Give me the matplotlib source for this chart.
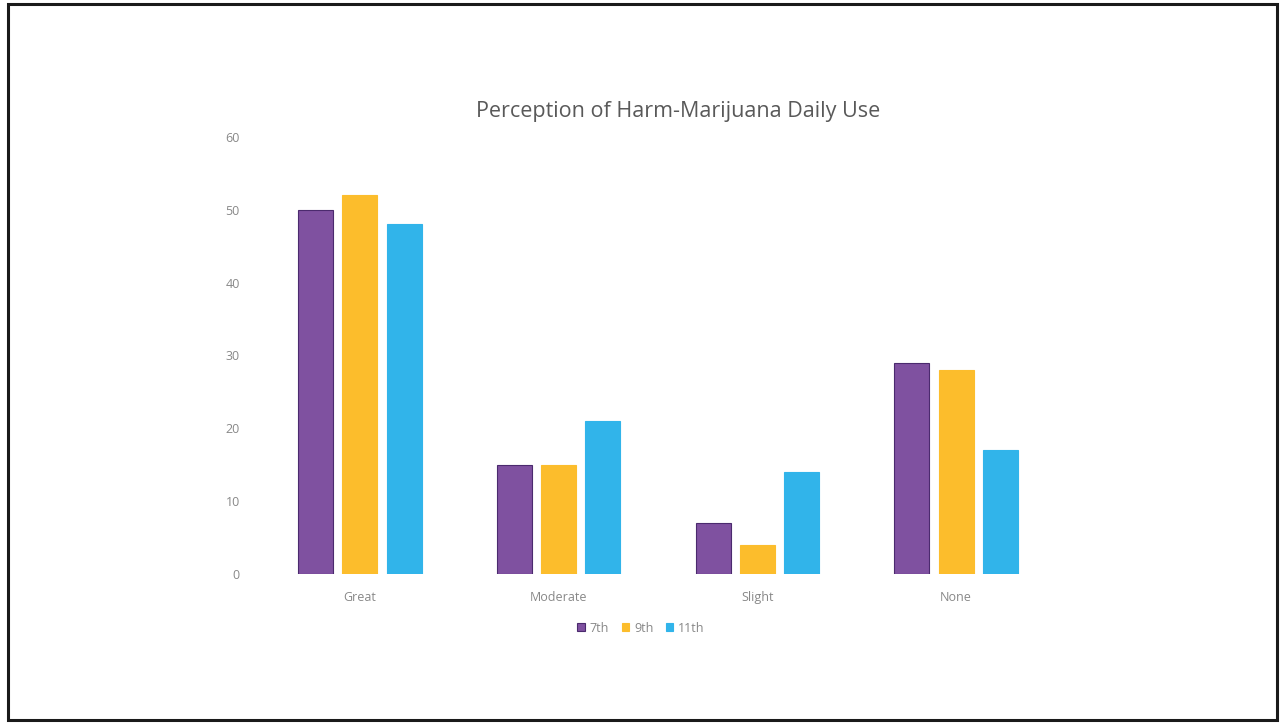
import matplotlib.pyplot as plt
import numpy as np
from matplotlib.patches import Rectangle

categories = ['Great', 'Moderate', 'Slight', 'None']
grade_7 = [50, 15, 7, 29]
grade_9 = [52, 15, 4, 28]
grade_11 = [48, 21, 14, 17]
series_names = ['7th', '9th', '11th']
colors = ['#7f51a0', '#fcbd2c', '#31b4ea']
edges = ['#4b2a6e', '#fcbd2c', '#31b4ea']

plt.rcParams['font.family'] = ['Open Sans', 'DejaVu Sans']

fig = plt.figure(figsize=(12.81, 7.23), dpi=100)
fig.patches.append(Rectangle((8 / 1281, 3 / 723), 1269 / 1281, 716 / 723,
                             transform=fig.transFigure, fill=False,
                             edgecolor='#1a1a1a', linewidth=2.2))

ax = fig.add_axes([260.5 / 1281, 1 - 574 / 723, 795 / 1281, 437 / 723])
x = np.arange(len(categories))
width = 0.176
step = 0.223
for i, vals in enumerate([grade_7, grade_9, grade_11]):
    ax.bar(x + (i - 1) * step, vals, width, color=colors[i],
           edgecolor=edges[i], linewidth=0.8, label=series_names[i])

ax.set_xlim(-0.5, 3.5)
ax.set_ylim(0, 60)
ax.set_yticks(range(0, 61, 10))
ax.set_xticks(x)
ax.set_xticklabels(categories)
ax.tick_params(length=0, colors='#888888', labelsize=9)
ax.tick_params(axis='y', pad=15)
ax.tick_params(axis='x', pad=12)
for s in ax.spines.values():
    s.set_visible(False)

fig.text(678 / 1281, 1 - 111 / 723, 'Perception of Harm-Marijuana Daily Use',
         ha='center', va='center', fontsize=15.5, color='#595959')

fig.legend(loc='center', bbox_to_anchor=(641 / 1281, 1 - 628 / 723), ncol=3,
           frameon=False, fontsize=9, labelcolor='#888888', handlelength=0.6,
           handleheight=0.6, handletextpad=0.4, columnspacing=1.0)

fig.savefig('out.png', dpi=100)
